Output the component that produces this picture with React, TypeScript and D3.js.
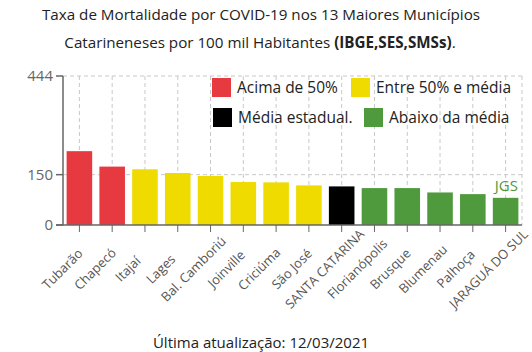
import React from "react";
import * as d3 from "d3";

const categories = ["Tubarão", "Chapecó", "Itajaí", "Lages", "Bal. Camboriú", "Joinville", "Criciúma", "São José", "SANTA CATARINA", "Florianópolis", "Brusque", "Blumenau", "Palhoça", "JARAGUÁ DO SUL"];
const values = [220, 174, 166, 155, 146, 128, 127, 118, 115, 110, 110, 97, 92, 81];
const groups = ["red", "red", "yellow", "yellow", "yellow", "yellow", "yellow", "yellow", "black", "green", "green", "green", "green", "green"];
const yTicks = [0, 150, 444];
const legendLabels = ["Acima de 50%", "Entre 50% e média", "Média estadual.", "Abaixo da média"];
const legendGroups = ["red", "yellow", "black", "green"];

const colors: Record<string, string> = {
  red: "#e63a40",
  yellow: "#efdb00",
  black: "#000000",
  green: "#4f9a3c",
};

const W = 532, H = 352;
const left = 63, right = 522, top = 76, bottom = 225;
const FONT = "'Open Sans', sans-serif";

export default function App() {
  const x = d3.scaleBand<string>().domain(categories).range([left, right]).paddingInner(0.22).paddingOuter(0.11);
  const y = d3.scaleLinear().domain([0, 444]).range([bottom, top]);
  const legendPos = [
    [212, 78], [351, 78], [213, 108], [364, 108],
  ];
  return (
    <svg width={W} height={H} style={{ position: "absolute", left: 0, top: 0, background: "#fff" }} fontFamily={FONT}>
      <text x={261} y={20} textAnchor="middle" fontSize={15.2} fill="#222">Taxa de Mortalidade por COVID-19 nos 13 Maiores Municípios</text>
      <text x={260} y={48} textAnchor="middle" fontSize={15.2} fill="#222">Catarineneses por 100 mil Habitantes <tspan fontWeight="bold">(IBGE,SES,SMSs)</tspan>.</text>
      {/* grid */}
      {categories.map((c) => (
        <line key={c} x1={x(c)! + x.bandwidth() / 2} x2={x(c)! + x.bandwidth() / 2} y1={top} y2={bottom} stroke="#c8c8c8" strokeDasharray="4,3" />
      ))}
      <line x1={right} x2={right} y1={top} y2={bottom} stroke="#c8c8c8" strokeDasharray="4,3" />
      {yTicks.filter((t) => t > 0).map((t) => (
        <line key={t} x1={left} x2={right} y1={y(t)} y2={y(t)} stroke="#c8c8c8" strokeDasharray="4,3" />
      ))}
      {/* bars */}
      {categories.map((c, i) => (
        <rect key={c} x={x(c)} y={y(values[i])} width={x.bandwidth()} height={bottom - y(values[i])} fill={colors[groups[i]]} />
      ))}
      {/* axes */}
      <line x1={left} x2={left} y1={top} y2={bottom} stroke="#666" strokeWidth={1.5} />
      <line x1={left - 7} x2={right} y1={bottom} y2={bottom} stroke="#666" strokeWidth={1.5} />
      {yTicks.map((t) => (
        <g key={t}>
          <line x1={left - 7} x2={left} y1={y(t)} y2={y(t)} stroke="#666" strokeWidth={1.5} />
          <text x={left - 10} y={y(t)} dy="0.35em" textAnchor="end" fontSize={15} fill="#666">{t}</text>
        </g>
      ))}
      {categories.map((c) => {
        const cx = x(c)! + x.bandwidth() / 2;
        return (
          <g key={c}>
            <line x1={cx} x2={cx} y1={bottom} y2={bottom + 7} stroke="#666" />
            <text transform={`translate(${cx - 17},${bottom + 44}) rotate(-45)`} textAnchor="middle" fontSize={13} fill="#555" dy="0.35em">{c}</text>
          </g>
        );
      })}
      {/* legend */}
      {legendLabels.map((l, i) => (
        <g key={l}>
          <rect x={legendPos[i][0]} y={legendPos[i][1]} width={19} height={19} fill={colors[legendGroups[i]]} />
          <text x={legendPos[i][0] + 25} y={legendPos[i][1] + 9.5} dy="0.35em" fontSize={15.5} fill="#222">{l}</text>
        </g>
      ))}
      <text x={518} y={191} textAnchor="end" fontSize={15} fill="#4f9a3c">JGS</text>
      <text x={261} y={348} textAnchor="middle" fontSize={15} fill="#222">Última atualização: 12/03/2021</text>
    </svg>
  );
}
